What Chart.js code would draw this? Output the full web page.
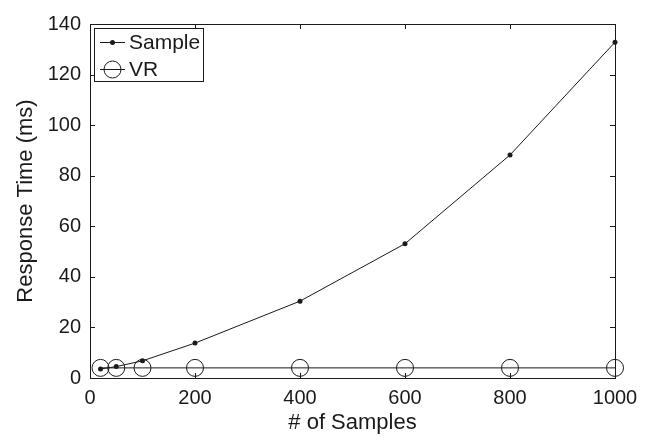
<!DOCTYPE html>
<html>
<head>
<meta charset="utf-8">
<script src="https://cdn.jsdelivr.net/npm/chart.js@4.4.1/dist/chart.umd.min.js"></script>
<style>
  body { margin: 0; background: #fff; }
  #wrap { width: 651px; height: 437px; position: relative; }
</style>
</head>
<body>
<div id="wrap"><canvas id="chart"></canvas></div>
<script>
'use strict'

const samples = [20, 50, 100, 200, 400, 600, 800, 1000];
const sampleTimes = [3.6, 4.5, 6.8, 13.8, 30.4, 53.1, 88.2, 132.8];
const vrTimes = [4, 4, 4, 4, 4, 4, 4, 4];
const xTicks = [0, 200, 400, 600, 800, 1000];
const yTicks = [0, 20, 40, 60, 80, 100, 120, 140];

const ink = '#1a1a1a';
const fontFamily = '"Liberation Sans", Arial, Helvetica, sans-serif';

function points(ys){
    return samples.map((x, i) => ({x: x, y: ys[i]}));
}

// matlab style box with inward ticks
const boxPlugin = {
    id: 'box',
    beforeDatasetsDraw(chart){
        const {ctx, chartArea: a, scales} = chart;
        ctx.save();
        ctx.strokeStyle = ink;
        ctx.lineWidth = 1;
        ctx.strokeRect(a.left + 0.5, a.top + 0.5, a.right - a.left, a.bottom - a.top);
        ctx.beginPath();
        xTicks.forEach(v => {
            const x = Math.round(scales.x.getPixelForValue(v)) + 0.5;
            ctx.moveTo(x, a.bottom); ctx.lineTo(x, a.bottom - 5);
            ctx.moveTo(x, a.top); ctx.lineTo(x, a.top + 5);
        });
        yTicks.forEach(v => {
            const y = Math.round(scales.y.getPixelForValue(v)) + 0.5;
            ctx.moveTo(a.left, y); ctx.lineTo(a.left + 5, y);
            ctx.moveTo(a.right, y); ctx.lineTo(a.right - 5, y);
        });
        ctx.stroke();
        ctx.restore();
    }
};

const legendPlugin = {
    id: 'boxLegend',
    afterDraw(chart){
        const ctx = chart.ctx;
        const left = chart.chartArea.left + 4, top = chart.chartArea.top + 4;
        ctx.save();
        ctx.fillStyle = '#fff';
        ctx.fillRect(left, top, 109, 53);
        ctx.strokeStyle = ink;
        ctx.lineWidth = 1;
        ctx.strokeRect(left + 0.5, top + 0.5, 109, 53);

        ctx.beginPath();
        ctx.moveTo(left + 6, top + 14.5); ctx.lineTo(left + 31, top + 14.5);
        ctx.moveTo(left + 6, top + 41.5); ctx.lineTo(left + 31, top + 41.5);
        ctx.stroke();
        ctx.beginPath();
        ctx.arc(left + 18.5, top + 14.5, 2.5, 0, Math.PI * 2);
        ctx.fillStyle = ink;
        ctx.fill();
        ctx.beginPath();
        ctx.arc(left + 18.5, top + 41.5, 8.5, 0, Math.PI * 2);
        ctx.stroke();

        ctx.fillStyle = ink;
        ctx.font = '21px ' + fontFamily;
        ctx.textBaseline = 'middle';
        ctx.fillText('Sample', left + 35, top + 15);
        ctx.fillText('VR', left + 35, top + 42);
        ctx.restore();
    }
};

const ctx = document.getElementById('chart').getContext('2d');

const myChart = new Chart(ctx, {
    type: 'line',
    data: {
        datasets: [{
            label: 'Sample',
            data: points(sampleTimes),
            borderColor: ink,
            backgroundColor: ink,
            borderWidth: 1,
            pointRadius: 2.5,
            pointBorderWidth: 0,
            tension: 0,
            clip: false,
        }, {
            label: 'VR',
            data: points(vrTimes),
            borderColor: ink,
            backgroundColor: 'rgba(0,0,0,0)',
            borderWidth: 1,
            pointRadius: 8.5,
            pointBorderWidth: 1,
            tension: 0,
            clip: false,
        }]
    },
    options: {
        responsive: true,
        maintainAspectRatio: false,
        animation: false,
        layout: { padding: { top: 24, right: 36, left: 0, bottom: 0 } },
        plugins: {
            legend: { display: false },
            tooltip: { enabled: false },
        },
        scales: {
            x: {
                type: 'linear',
                min: 0,
                max: 1000,
                afterFit(scale){ scale.height = 59; },
                afterBuildTicks(scale){ scale.ticks = xTicks.map(v => ({value: v})); },
                grid: { display: false, drawTicks: false },
                border: { display: false },
                ticks: {
                    padding: 8,
                    color: ink,
                    maxRotation: 0,
                    font: { family: fontFamily, size: 20 },
                    callback: v => String(v),
                },
                title: {
                    display: true,
                    text: '# of Samples',
                    color: ink,
                    padding: { top: 0, bottom: 1 },
                    font: { family: fontFamily, size: 22 },
                },
            },
            y: {
                min: 0,
                max: 140,
                afterFit(scale){ scale.width = 90; },
                afterBuildTicks(scale){ scale.ticks = yTicks.map(v => ({value: v})); },
                grid: { display: false, drawTicks: false },
                border: { display: false },
                ticks: {
                    padding: 9,
                    color: ink,
                    font: { family: fontFamily, size: 20 },
                    callback: v => String(v),
                },
                title: {
                    display: true,
                    text: 'Response Time (ms)',
                    color: ink,
                    padding: { top: 13, bottom: 0 },
                    font: { family: fontFamily, size: 22 },
                },
            },
        },
    },
    plugins: [boxPlugin, legendPlugin],
});
</script>
</body>
</html>
